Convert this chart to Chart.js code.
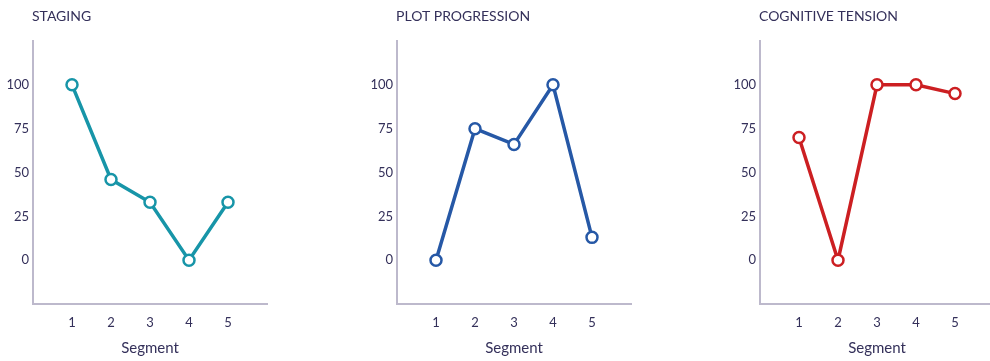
<!DOCTYPE html>
<html lang="en">
<head>
    <meta charset="UTF-8">
    <title>Segment charts</title>
    <script src="https://cdn.jsdelivr.net/npm/chart.js"></script>
    <style>
      html, body { margin: 0; padding: 0; background: #fff; overflow: hidden; }
      body { width: 990px; height: 361px; position: relative; }
      .panel { position: absolute; top: 0; width: 300px; height: 361px; }
    </style>
</head>
<body>
    <div class="panel" style="left:0px"><canvas id="c1"></canvas></div>
    <div class="panel" style="left:364px"><canvas id="c2"></canvas></div>
    <div class="panel" style="left:727px"><canvas id="c3"></canvas></div>

    <script>
        // data
        const segments = [1, 2, 3, 4, 5];
        const yTicks = [0, 25, 50, 75, 100];
        const staging = [100, 46, 33, 0, 33];
        const plotProgression = [0, 75, 66, 100, 13];
        const cognitiveTension = [70, 0, 100, 100, 95];

        const textColor = '#34305a';
        const axisColor = '#bdb9cc';
        const fontFamily = 'Lato, "Open Sans", sans-serif';

        // title drawn at the left edge of the plot area
        const panelTitle = {
            id: 'panelTitle',
            afterDraw(chart, args, opts) {
                const ctx = chart.ctx;
                ctx.save();
                ctx.font = '14px ' + fontFamily;
                ctx.fillStyle = textColor;
                ctx.textAlign = 'left';
                ctx.textBaseline = 'middle';
                ctx.fillText(opts.text, chart.chartArea.left - 1, 16);
                ctx.restore();
            }
        };

        function makeChart(id, title, values, color) {
            const points = segments.map((s, i) => ({x: s, y: values[i]}));
            new Chart(document.getElementById(id), {
                type: 'line',
                data: {
                    datasets: [{
                        data: points,
                        borderColor: color,
                        borderWidth: 3.5,
                        pointRadius: 5.5,
                        pointBorderWidth: 2.5,
                        pointBackgroundColor: '#fff',
                        pointBorderColor: color,
                        tension: 0
                    }]
                },
                options: {
                    responsive: true,
                    maintainAspectRatio: false,
                    animation: false,
                    layout: { padding: { top: 41, right: 33, left: 0, bottom: 0 } },
                    plugins: {
                        legend: { display: false },
                        tooltip: { enabled: false },
                        panelTitle: { text: title }
                    },
                    scales: {
                        x: {
                            type: 'linear',
                            min: 0,
                            max: 6,
                            afterBuildTicks: (axis) => { axis.ticks = segments.map(v => ({value: v})); },
                            grid: { display: false, drawTicks: false },
                            border: { display: true, color: axisColor, width: 2 },
                            ticks: { color: textColor, font: { size: 13, family: fontFamily }, padding: 11 },
                            title: { display: true, text: 'Segment', color: textColor, font: { size: 15, family: fontFamily }, padding: { top: 4, bottom: 4 } },
                            afterFit: (axis) => { axis.height = 57; }
                        },
                        y: {
                            min: -25,
                            max: 125,
                            afterBuildTicks: (axis) => { axis.ticks = yTicks.map(v => ({value: v})); },
                            grid: { display: false, drawTicks: false },
                            border: { display: true, color: axisColor, width: 2 },
                            ticks: { color: textColor, font: { size: 13, family: fontFamily }, padding: 4 },
                            afterFit: (axis) => { axis.width = 33; }
                        }
                    }
                },
                plugins: [panelTitle]
            });
        }

        makeChart('c1', 'STAGING', staging, '#1795a8');
        makeChart('c2', 'PLOT PROGRESSION', plotProgression, '#2658a6');
        makeChart('c3', 'COGNITIVE TENSION', cognitiveTension, '#cc1f22');
    </script>
</body>
</html>
